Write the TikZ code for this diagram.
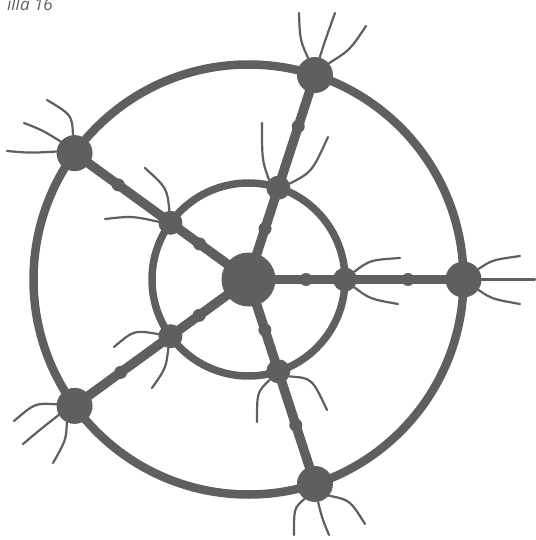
\documentclass[tikz,border=0pt]{standalone}
\usepackage{fontspec}
\newfontfamily\capfont{Open Sans}
\usetikzlibrary{calc}
\definecolor{ink}{RGB}{95,95,95}
\begin{document}
\begin{tikzpicture}[x=1pt,y=-1pt,
  hub/.style={circle,fill=ink,inner sep=0pt,minimum size=54pt},
  outernode/.style={circle,fill=ink,inner sep=0pt,minimum size=36pt},
  innernode/.style={circle,fill=ink,inner sep=0pt,minimum size=24pt},
  bead/.style={circle,fill=ink,inner sep=0pt,minimum size=13pt},
  ring/.style={draw=ink,line width=8.5pt},
  iring/.style={draw=ink,line width=7.5pt},
  spoke/.style={draw=ink,line width=9.5pt},
  hair/.style={draw=ink,line width=2.2pt,line cap=round}]
\useasboundingbox (0,0) rectangle (535,540);
\node[anchor=base east,text=ink,inner sep=0pt,font=\capfont\itshape\fontsize{17}{20}\selectfont] (cap) at (53,11) {illa 16};
\node[hub] (c) at (248.5,279.5) {};
\foreach \i/\a in {1/0,2/72,3/144,4/216,5/288} {
  \node[innernode] (i\i) at ($(c)+(-\a:96.5)$) {};
  \node[outernode] (o\i) at ($(c)+(-\a:215)$) {};
}
\draw[iring] (c) circle[radius=96.5];
\draw[ring] (c) circle[radius=215];
\foreach \i/\ra/\rb in {1/57.5/159.5,2/53.5/161,3/60.5/161,4/61/158,5/53/153} {
  \draw[spoke] (c.center) -- (i\i.center) -- (o\i.center);
  \node[bead] (ba\i) at ($(c.center)!\ra pt!(i\i.center)$) {};
  \node[bead] (bb\i) at ($(c.center)!\rb pt!(o\i.center)$) {};
}
% outer tendrils
\draw[hair] (o2.112) .. controls (300,40) .. (299,13);
\draw[hair] (o2.75) .. controls (326,38) .. (335,13);
\draw[hair] (o2.40) .. controls (350,50) .. (366,26);
\draw[hair] (o3.95) .. controls (72,115) .. (47,100);
\draw[hair] (o3.140) .. controls (42,130) .. (24,123);
\draw[hair] (o3.175) .. controls (30,153) .. (7,151);
\draw[hair] (o1.35) .. controls (492,260) .. (520,256);
\draw[hair] (o1.0) -- (535,279.5);
\draw[hair] (o1.-35) .. controls (492,299) .. (520,304);
\draw[hair] (o4.175) .. controls (35,403) .. (14,421);
\draw[hair] (o4.210) .. controls (42,428) .. (23,444);
\draw[hair] (o4.245) .. controls (66,440) .. (53,463);
\draw[hair] (o5.235) .. controls (294,508) .. (294,535);
\draw[hair] (o5.280) .. controls (322,518) .. (329,535);
\draw[hair] (o5.320) .. controls (350,500) .. (365,524);
% inner tendrils
\draw[hair] (i2.140) .. controls (262,160) .. (262,123);
\draw[hair] (i2.20) .. controls (312,172) .. (328,137);
\draw[hair] (i3.95) .. controls (167,188) .. (145,168);
\draw[hair] (i3.175) .. controls (132,216) .. (105,219);
\draw[hair] (i4.170) .. controls (134,330) .. (114,347);
\draw[hair] (i4.260) .. controls (166,368) .. (152,388);
\draw[hair] (i5.225) .. controls (257,392) .. (257,422);
\draw[hair] (i5.-25) .. controls (312,378) .. (327,410);
\draw[hair] (i1.40) .. controls (370,260) .. (400,258);
\draw[hair] (i1.-40) .. controls (370,299) .. (398,304);
\end{tikzpicture}
\end{document}
